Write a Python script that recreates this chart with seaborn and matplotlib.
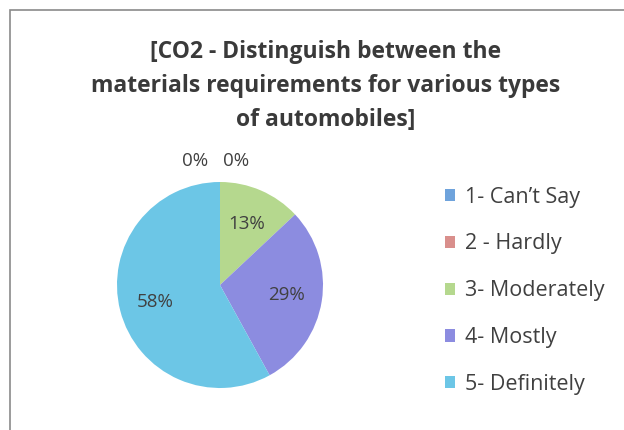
import matplotlib
matplotlib.use("Agg")
import matplotlib.pyplot as plt
import seaborn as sns
from matplotlib.patches import Rectangle

categories = ["1- Can\u2019t Say", "2 - Hardly", "3- Moderately", "4- Mostly", "5- Definitely"]
values = [0, 0, 13, 29, 58]
pct_labels = ["0%", "0%", "13%", "29%", "58%"]
title = "[CO2 - Distinguish between the\nmaterials requirements for various types\nof automobiles]"

sns.set_theme(style="white")
plt.rcParams['font.family'] = ['Open Sans', 'DejaVu Sans']

colors = sns.color_palette(["#6fa3dc", "#d98f8c", "#b5d88e", "#8c8ce0", "#6cc6e6"])

fig = plt.figure(figsize=(6.24, 4.30), dpi=100)
fig.patch.set_facecolor("white")

# frame border
fig.add_artist(Rectangle((10/624, -0.1), 1.1, 1 - 10/430 + 0.1, transform=fig.transFigure,
                         fill=False, edgecolor="#8a8a8a", linewidth=1.2))

fig.text(0.522, 1 - 86/430, title, ha="center", va="center", fontsize=16.5,
         fontweight="bold", color="#3a3a3a", linespacing=1.58)

ax = fig.add_axes([117/624, 42/430, 206/624, 206/430])
wedges, texts, autotexts = ax.pie(values, colors=colors, startangle=90, counterclock=False,
                                  autopct=lambda p: "", pctdistance=0.65,
                                  wedgeprops=dict(linewidth=0))
ax.set_aspect("equal")
ax.set_xlim(-1, 1)
ax.set_ylim(-1, 1)
ax.axis("off")

zero_offsets = [-0.24, 0.16]
zi = 0
for t, lab, v in zip(autotexts, pct_labels, values):
    t.set_text(lab)
    t.set_fontsize(13.5)
    t.set_color("#404040")
    if v == 0:
        t.set_position((zero_offsets[zi], 1.2))
        zi += 1
    t.set_clip_on(False)

leg = fig.legend(wedges, categories, loc="upper left", bbox_to_anchor=(436/624, 1 - 178/430),
                 frameon=False, fontsize=15.5, handlelength=0.5, handleheight=0.5,
                 handletextpad=0.45, labelspacing=1.2, borderaxespad=0)
for t in leg.get_texts():
    t.set_color("#404040")

fig.savefig("out.png", dpi=100, facecolor="white")
